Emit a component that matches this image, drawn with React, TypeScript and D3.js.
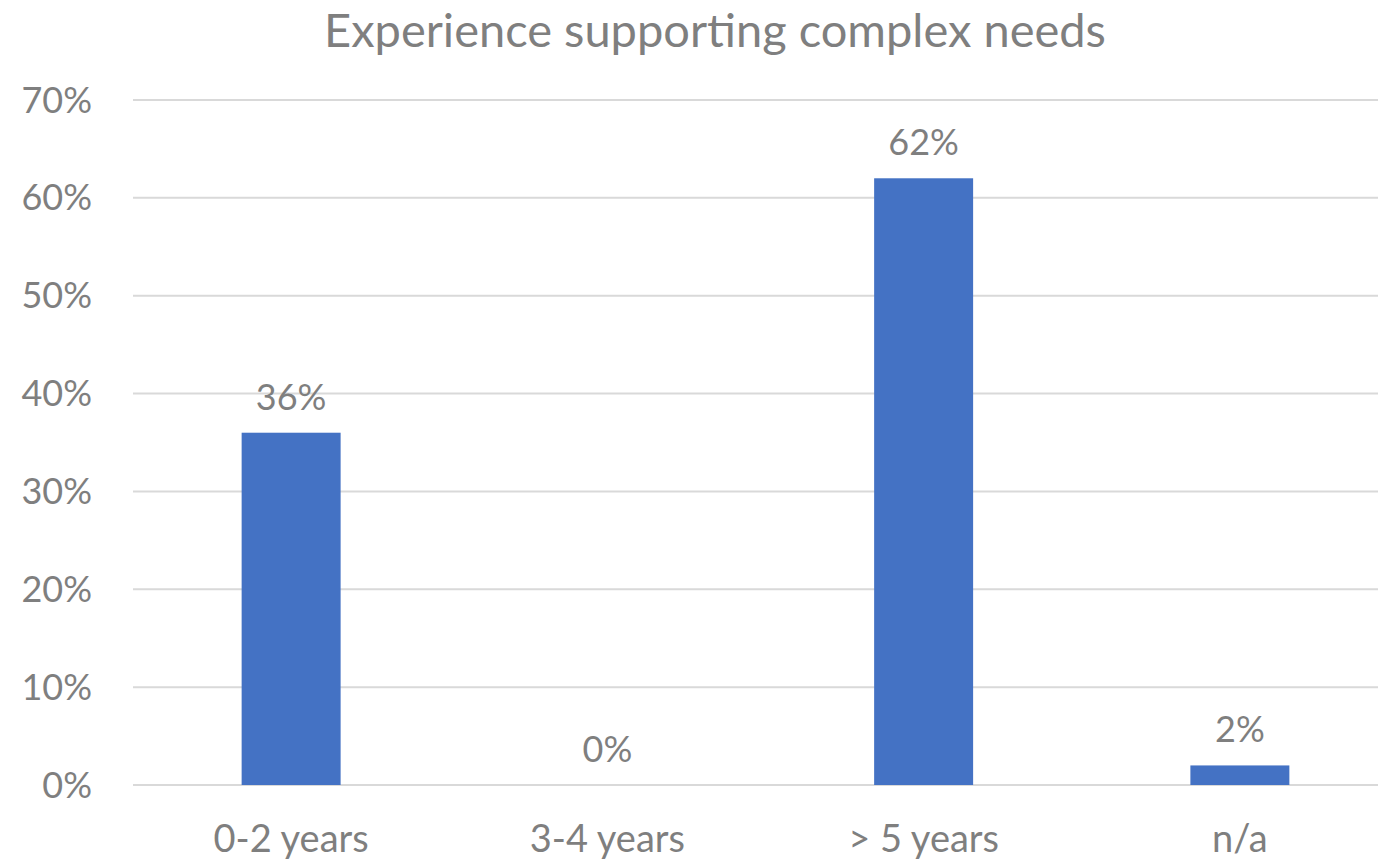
import React from "react";
import * as d3 from "d3";

const categories = ["0-2 years", "3-4 years", "> 5 years", "n/a"];
const values = [0.36, 0, 0.62, 0.02];
const valueLabels = ["36%", "0%", "62%", "2%"];
const yTicks = [0, 0.1, 0.2, 0.3, 0.4, 0.5, 0.6, 0.7];
const title = "Experience supporting complex needs";

const W = 1378;
const H = 863;
const FONT = "Lato, 'Open Sans', sans-serif";
const TEXT = "#7f7f7f";

export default function App() {
  const x = d3.scaleBand<string>().domain(categories).range([133, 1398]).paddingInner(0).paddingOuter(0);
  const y = d3.scaleLinear().domain([0, 0.7]).range([785, 100]);
  const barW = x.bandwidth() * 0.313;
  const fmt = d3.format(".0%");
  return (
    <svg width={W} height={H} style={{ position: "absolute", left: 0, top: 0, background: "#fff" }}>
      <rect x={0} y={0} width={W} height={H} fill="#fff" />
      <text x={715} y={47} textAnchor="middle" fontFamily={FONT} fontSize={47} fill={TEXT}>{title}</text>
      {yTicks.map((t) => (
        <g key={t}>
          <line x1={133} x2={1398} y1={y(t)} y2={y(t)} stroke="#d9d9d9" strokeWidth={2} />
          <text x={92} y={y(t)} dy="0.35em" textAnchor="end" fontFamily={FONT} fontSize={36} fill={TEXT}>{fmt(t)}</text>
        </g>
      ))}
      {categories.map((c, i) => {
        const cx = (x(c) as number) + x.bandwidth() / 2;
        return (
          <g key={c}>
            <rect x={cx - barW / 2} y={y(values[i])} width={barW} height={y(0) - y(values[i])} fill="#4472c4" />
            <text x={cx} y={y(values[i]) - 23} textAnchor="middle" fontFamily={FONT} fontSize={36} fill={TEXT}>{valueLabels[i]}</text>
            <text x={cx} y={852} textAnchor="middle" fontFamily={FONT} fontSize={38} fill={TEXT}>{c}</text>
          </g>
        );
      })}
    </svg>
  );
}
